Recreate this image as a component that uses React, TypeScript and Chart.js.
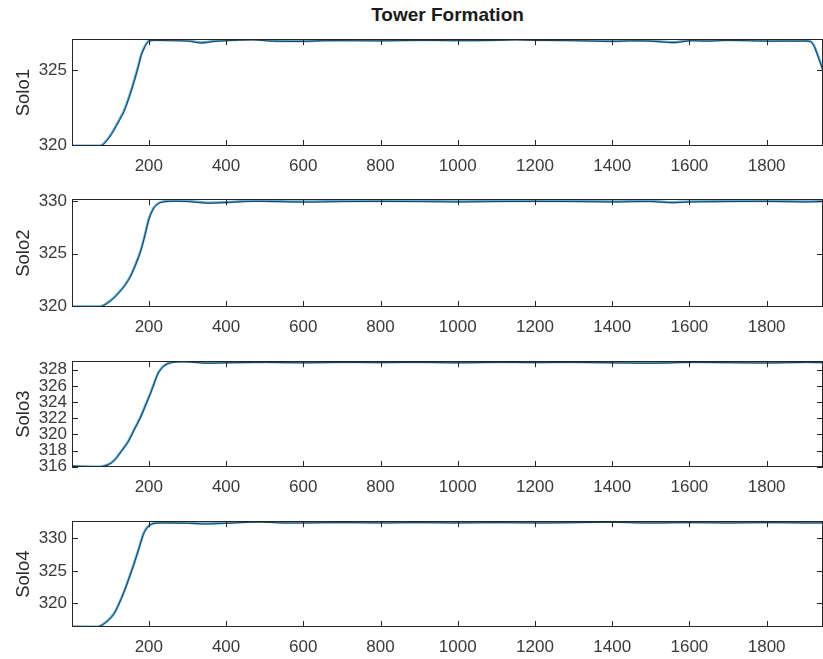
import React, { useEffect, useRef } from 'react';
import Chart from 'chart.js/auto';

const FONT = '"Liberation Sans", Arial, Helvetica, sans-serif';

const chartTitle = 'Tower Formation';
const xTicks = [200, 400, 600, 800, 1000, 1200, 1400, 1600, 1800];
const xMin = 1;
const xMax = 1946;

// Solo1
const labels1 = 'Solo1';
const yTicks1 = [320, 325];
const x1 = [1, 40, 76, 95, 110, 125, 136, 150, 161, 172, 180, 190, 200, 220, 250, 300, 335, 370, 420, 470, 520, 600, 650, 700, 800, 900, 1000, 1100, 1150, 1200, 1300, 1400, 1450, 1500, 1560, 1600, 1650, 1700, 1800, 1880, 1914, 1925, 1935, 1946];
const blue1 = [319.95, 319.95, 319.96, 320.45, 321.05, 321.75, 322.3, 323.3, 324.2, 325.2, 326.0, 326.6, 326.95, 327.0, 327.0, 326.97, 326.83, 326.93, 327.0, 327.05, 326.95, 326.93, 326.97, 326.98, 326.97, 327.0, 326.98, 327.0, 327.05, 327.0, 326.98, 326.93, 326.97, 326.95, 326.85, 326.97, 326.95, 327.0, 326.95, 326.95, 326.9, 326.5, 325.8, 325.0];
const dark1 = [319.9, 319.92, 319.94, 320.4, 321.0, 321.7, 322.25, 323.25, 324.15, 325.15, 325.95, 326.55, 326.9, 326.97, 326.95, 326.92, 326.8, 326.9, 326.97, 327.0, 326.92, 326.9, 326.95, 326.95, 326.94, 326.97, 326.95, 326.97, 327.0, 326.97, 326.95, 326.9, 326.94, 326.92, 326.82, 326.94, 326.92, 326.97, 326.92, 326.92, 326.88, 326.45, 325.75, 324.95];

// Solo2
const labels2 = 'Solo2';
const yTicks2 = [320, 325, 330];
const x2 = [1, 40, 76, 100, 120, 140, 153, 166, 179, 190, 200, 210, 218, 230, 250, 300, 350, 400, 450, 500, 600, 700, 800, 900, 1000, 1100, 1200, 1300, 1400, 1500, 1560, 1600, 1700, 1800, 1900, 1946];
const blue2 = [319.95, 319.95, 319.97, 320.5, 321.2, 322.1, 322.9, 324.0, 325.3, 326.8, 328.3, 329.2, 329.6, 329.9, 330.02, 330.0, 329.85, 329.9, 330.0, 330.02, 329.95, 330.0, 330.02, 330.0, 329.97, 330.0, 330.02, 330.0, 329.97, 330.0, 329.88, 329.97, 330.0, 330.02, 329.97, 330.0];
const dark2 = [319.92, 319.93, 319.94, 320.45, 321.15, 322.05, 322.85, 323.95, 325.25, 326.75, 328.25, 329.15, 329.55, 329.85, 329.97, 329.95, 329.8, 329.86, 329.95, 329.97, 329.9, 329.95, 329.97, 329.95, 329.92, 329.95, 329.97, 329.95, 329.92, 329.95, 329.84, 329.92, 329.95, 329.97, 329.92, 329.95];

// Solo3
const labels3 = 'Solo3';
const yTicks3 = [316, 318, 320, 322, 324, 326, 328];
const x3 = [1, 40, 76, 95, 110, 128, 146, 162, 179, 192, 205, 215, 223, 231, 239, 250, 262, 290, 350, 400, 500, 600, 700, 800, 900, 1000, 1100, 1200, 1300, 1400, 1500, 1600, 1700, 1800, 1900, 1946];
const blue3 = [316.05, 316.0, 316.0, 316.3, 316.8, 317.9, 319.1, 320.6, 322.2, 323.7, 325.2, 326.5, 327.5, 328.1, 328.5, 328.8, 328.95, 329.05, 328.85, 328.9, 328.95, 328.9, 328.95, 328.92, 328.95, 328.9, 328.95, 328.92, 328.95, 328.9, 328.85, 328.95, 328.92, 328.88, 328.95, 328.92];
const dark3 = [316.1, 316.05, 316.03, 316.25, 316.75, 317.85, 319.05, 320.55, 322.15, 323.65, 325.15, 326.45, 327.45, 328.05, 328.45, 328.75, 328.9, 328.98, 328.8, 328.85, 328.9, 328.85, 328.9, 328.87, 328.9, 328.85, 328.9, 328.87, 328.9, 328.85, 328.8, 328.9, 328.87, 328.83, 328.9, 328.87];

// Solo4
const labels4 = 'Solo4';
const yTicks4 = [320, 325, 330];
const x4 = [1, 40, 70, 90, 109, 122, 135, 148, 161, 174, 187, 198, 210, 230, 300, 350, 400, 480, 550, 600, 700, 800, 900, 1000, 1100, 1200, 1300, 1400, 1500, 1600, 1700, 1800, 1900, 1946];
const blue4 = [316.45, 316.45, 316.45, 317.2, 318.4, 319.9, 321.7, 323.8, 326.0, 328.4, 330.8, 331.8, 332.25, 332.4, 332.35, 332.25, 332.35, 332.55, 332.4, 332.4, 332.45, 332.4, 332.45, 332.4, 332.45, 332.4, 332.45, 332.5, 332.4, 332.45, 332.4, 332.45, 332.4, 332.4];
const dark4 = [316.5, 316.48, 316.47, 317.15, 318.35, 319.85, 321.65, 323.75, 325.95, 328.35, 330.75, 331.75, 332.2, 332.33, 332.28, 332.18, 332.28, 332.45, 332.33, 332.33, 332.38, 332.33, 332.38, 332.33, 332.38, 332.33, 332.38, 332.42, 332.33, 332.38, 332.33, 332.38, 332.33, 332.33];

const panels = [
  { label: labels1, top: 32, bottom: 146, yMin: 319.93, yMax: 327.05, yTicks: yTicks1, xs: x1, blue: blue1, dark: dark1 },
  { label: labels2, top: 192, bottom: 307, yMin: 319.9, yMax: 330.18, yTicks: yTicks2, xs: x2, blue: blue2, dark: dark2 },
  { label: labels3, top: 354, bottom: 467, yMin: 315.97, yMax: 329.05, yTicks: yTicks3, xs: x3, blue: blue3, dark: dark3 },
  { label: labels4, top: 514, bottom: 627, yMin: 316.4, yMax: 332.6, yTicks: yTicks4, xs: x4, blue: blue4, dark: dark4 },
];

const PAD_TOP = 8;
const X_AXIS_H = 30;
const Y_AXIS_W = 72;
const W = 823;

const boxPlugin = {
  id: 'matlabBox',
  afterDatasetsDraw(chart: any) {
    const { ctx, chartArea: a, scales } = chart;
    const tl = 6;
    ctx.save();
    ctx.strokeStyle = '#262626';
    ctx.lineWidth = 1;
    ctx.strokeRect(Math.round(a.left) + 0.5, Math.round(a.top) + 0.5, Math.round(a.right - a.left) - 1, Math.round(a.bottom - a.top) - 1);
    ctx.beginPath();
    for (const t of scales.x.ticks) {
      const px = Math.round(scales.x.getPixelForValue(t.value)) + 0.5;
      ctx.moveTo(px, a.bottom);
      ctx.lineTo(px, a.bottom - tl);
      ctx.moveTo(px, a.top);
      ctx.lineTo(px, a.top + tl);
    }
    for (const t of scales.y.ticks) {
      const py = Math.round(scales.y.getPixelForValue(t.value)) + 0.5;
      ctx.moveTo(a.left, py);
      ctx.lineTo(a.left + tl, py);
      ctx.moveTo(a.right, py);
      ctx.lineTo(a.right - tl, py);
    }
    ctx.stroke();
    ctx.restore();
  },
};

function Panel({ cfg }: { cfg: any }) {
  const ref = useRef<HTMLCanvasElement>(null);
  const H = cfg.bottom - cfg.top + PAD_TOP + X_AXIS_H;
  useEffect(() => {
    const blueData = cfg.xs.map((x: number, i: number) => ({ x, y: cfg.blue[i] }));
    const darkData = cfg.xs.map((x: number, i: number) => ({ x, y: cfg.dark[i] }));
    const chart = new Chart(ref.current as HTMLCanvasElement, {
      type: 'line',
      data: {
        datasets: [
          { label: 'act', data: darkData, borderColor: '#22394a', borderWidth: 1, pointRadius: 0, tension: 0.3, fill: false },
          { label: 'ref', data: blueData, borderColor: '#5aaede', borderWidth: 2.5, pointRadius: 0, tension: 0.3, fill: false },
        ],
      },
      options: {
        animation: false,
        responsive: false,
        devicePixelRatio: 1,
        layout: { padding: { top: PAD_TOP, right: 0, left: 0, bottom: 0 } },
        plugins: { legend: { display: false }, tooltip: { enabled: false }, title: { display: false } },
        scales: {
          x: {
            type: 'linear',
            min: xMin,
            max: xMax,
            grid: { display: false, drawTicks: false },
            border: { display: false },
            afterBuildTicks: (scale: any) => { scale.ticks = xTicks.map((v) => ({ value: v })); },
            afterFit: (scale: any) => { scale.height = X_AXIS_H; },
            ticks: {
              padding: 10,
              maxRotation: 0,
              autoSkip: false,
              color: '#3a3a3a',
              font: { family: FONT, size: 17 },
              callback: (v: any) => String(v),
            },
          },
          y: {
            type: 'linear',
            min: cfg.yMin,
            max: cfg.yMax,
            grid: { display: false, drawTicks: false },
            border: { display: false },
            afterBuildTicks: (scale: any) => { scale.ticks = cfg.yTicks.map((v: number) => ({ value: v })); },
            afterFit: (scale: any) => { scale.width = Y_AXIS_W; },
            ticks: {
              padding: 5,
              autoSkip: false,
              color: '#3a3a3a',
              font: { family: FONT, size: 17 },
              callback: (v: any) => String(v),
            },
            title: {
              display: true,
              text: cfg.label,
              color: '#2a2a2a',
              font: { family: FONT, size: 18.5 },
              padding: { top: 13, bottom: 0 },
            },
          },
        },
      },
      plugins: [boxPlugin],
    });
    return () => chart.destroy();
  }, []);
  return (
    <canvas
      ref={ref}
      width={W}
      height={H}
      style={{ position: 'absolute', left: 0, top: cfg.top - PAD_TOP, width: W, height: H }}
    />
  );
}

export default function App() {
  return (
    <div style={{ position: 'absolute', left: 0, top: 0, width: W, height: 659, background: '#ffffff', overflow: 'hidden' }}>
      <div
        style={{
          position: 'absolute',
          left: Y_AXIS_W,
          top: 4,
          width: W - Y_AXIS_W,
          textAlign: 'center',
          fontFamily: FONT,
          fontWeight: 'bold',
          fontSize: 19,
          lineHeight: '22px',
          color: '#1a1a1a',
        }}
      >
        {chartTitle}
      </div>
      {panels.map((p) => (
        <Panel key={p.label} cfg={p} />
      ))}
    </div>
  );
}
